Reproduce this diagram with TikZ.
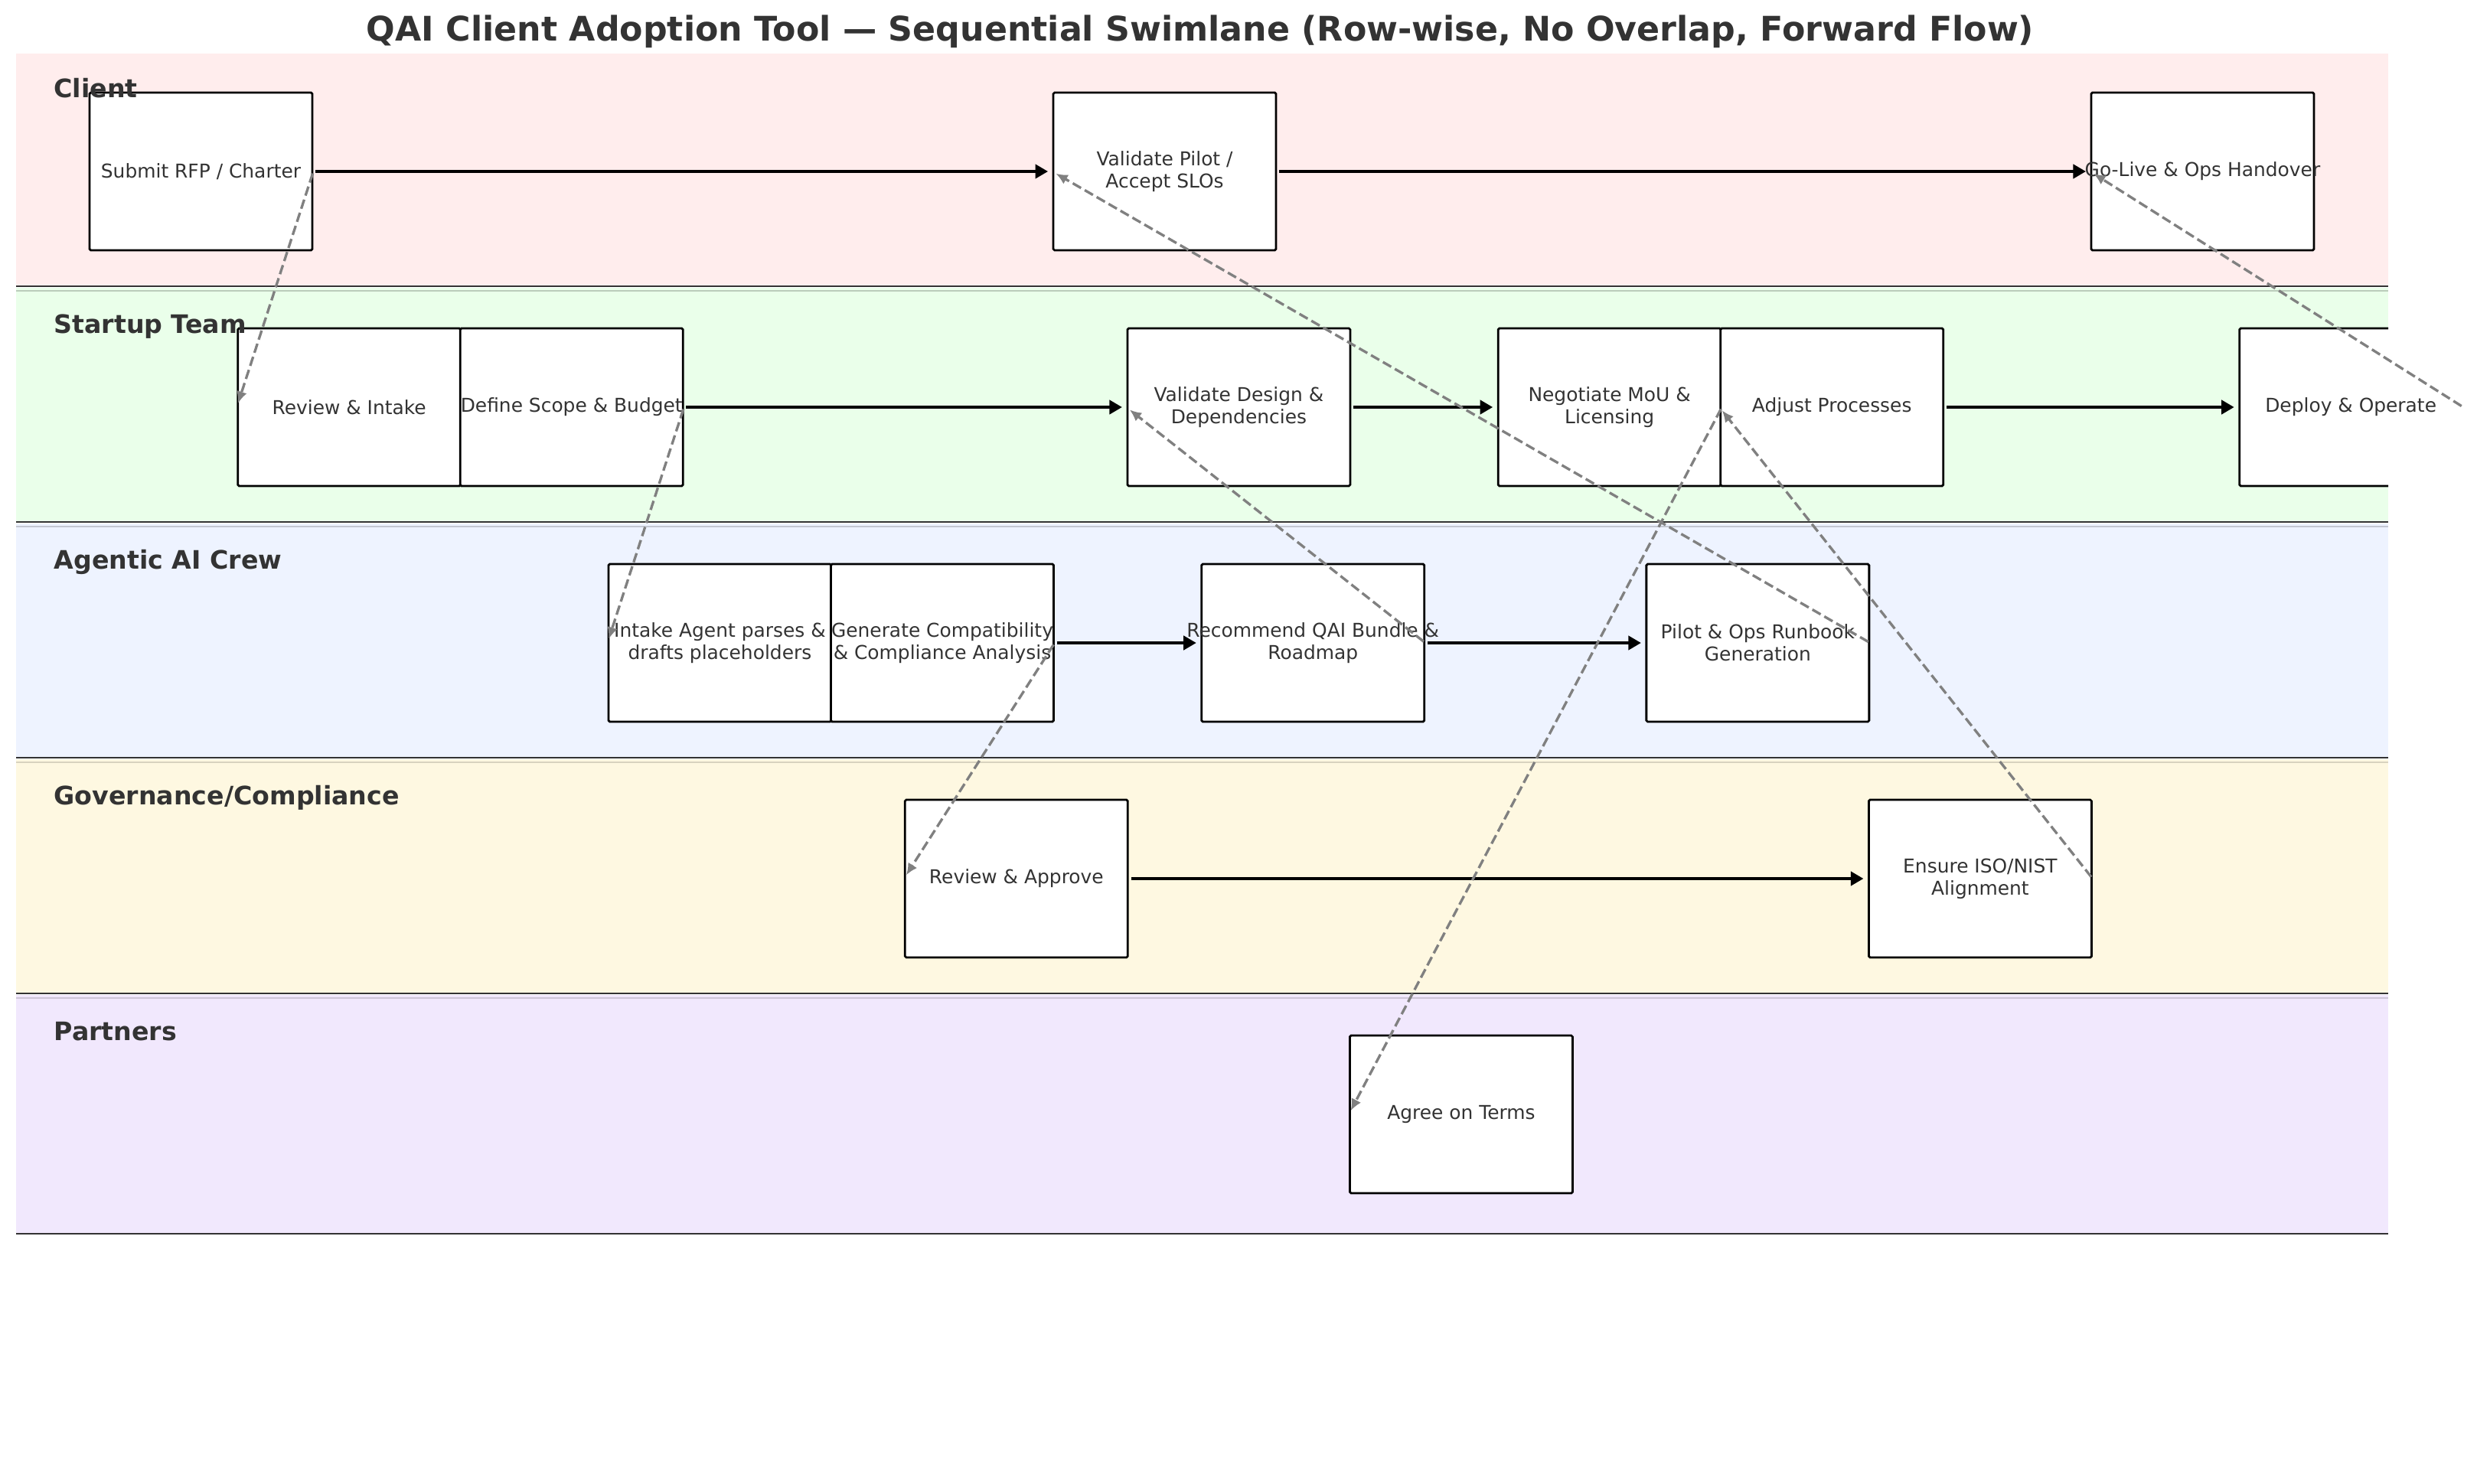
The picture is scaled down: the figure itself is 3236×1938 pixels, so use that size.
\documentclass[tikz,border=0pt]{standalone}
\usepackage{fontspec}
\setmainfont{DejaVu Sans}
\usetikzlibrary{arrows.meta}
\definecolor{laneA}{HTML}{FFEDED}
\definecolor{laneB}{HTML}{EAFFEA}
\definecolor{laneC}{HTML}{EEF3FF}
\definecolor{laneD}{HTML}{FEF8E1}
\definecolor{laneE}{HTML}{F1E8FD}
\definecolor{txt}{HTML}{333333}
\definecolor{dash}{HTML}{808080}
\newcommand{\cln}[1]{\makebox[0pt]{#1}}
\begin{document}
\begin{tikzpicture}[x=0.36135pt,y=-0.36135pt,
  stepbox/.style={draw=black,line width=1pt,fill=white,rounded corners=0.6pt,
    minimum width=105.15pt,minimum height=74.44pt,inner sep=0pt,
    font=\fontsize{9}{10.4}\selectfont,text=txt,align=center},
  boxtext/.style={inner sep=0pt,font=\fontsize{9}{10.4}\selectfont,text=txt,align=center},
  flow/.style={line width=1.6pt,-{Triangle[length=6pt,width=6.5pt]},shorten >=2pt,shorten <=1pt},
  handoff/.style={draw=dash,line width=1.2pt,dash pattern=on 4.5pt off 2pt,
    -{Latex[length=5.5pt,width=5pt]},shorten >=2pt,shorten <=1pt},
  lanelabel/.style={anchor=base west,font=\bfseries\fontsize{12}{14}\selectfont,text=txt,inner sep=0pt},
  darkline/.style={draw=black!80,line width=1pt},
  lightline/.style={line width=1pt},
]
\useasboundingbox (0,0) rectangle (3236,1938);
\fill[white] (0,0) rectangle (3236,1938);
% lanes
\fill[laneA] (21,70) rectangle (3120,374);
\fill[laneB] (21,376) rectangle (3120,682);
\fill[laneC] (21,684) rectangle (3120,990);
\fill[laneD] (21,992) rectangle (3120,1298);
\fill[laneE] (21,1300) rectangle (3120,1612);
\draw[lightline,draw=laneB!80!black] (21,380) -- (3120,380);
\draw[lightline,draw=laneC!82!black] (21,688) -- (3120,688);
\draw[lightline,draw=laneD!85!black] (21,996) -- (3120,996);
\draw[lightline,draw=laneE!85!black] (21,1304) -- (3120,1304);
\foreach \yy in {374,682,990,1298,1612} \draw[darkline] (21,\yy) -- (3120,\yy);
% client
\node[stepbox] (submit) at (262.5,224) {Submit RFP / Charter};
\node[stepbox] (vpilot) at (1521.55,224) {Validate Pilot /\\Accept SLOs};
\node[stepbox] (golive) at (2877.45,224) {\cln{Go-Live \& Ops Handover}};
% startup
\node[stepbox] (review) at (456.2,532) {Review \& Intake};
\node[stepbox] (scope) at (746.75,532) {\cln{Define Scope \& Budget}};
\node[stepbox] (vdesign) at (1618.4,532) {Validate Design \&\\Dependencies};
\node[stepbox] (mou) at (2102.65,532) {Negotiate MoU \&\\Licensing};
\node[stepbox] (adjust) at (2393.2,532) {Adjust Processes};
\begin{scope}
\clip (21,0) rectangle (3120,1938);
\node[stepbox] (deploy) at (3071.15,532) {};
\end{scope}
\node[boxtext] at (deploy.center) {Deploy \& Operate};
% agentic
\node[stepbox] (intake) at (940.45,840) {\cln{Intake Agent parses \&}\\\cln{drafts placeholders}};
\node[stepbox] (compat) at (1231.0,840) {\cln{Generate Compatibility}\\\cln{\& Compliance Analysis}};
\node[stepbox] (bundle) at (1715.25,840) {\cln{Recommend QAI Bundle \&}\\Roadmap};
\node[stepbox] (runbook) at (2296.35,840) {\cln{Pilot \& Ops Runbook}\\Generation};
% governance
\node[stepbox] (approve) at (1327.85,1148) {Review \& Approve};
\node[stepbox] (iso) at (2586.9,1148) {Ensure ISO/NIST\\Alignment};
% partners
\node[stepbox] (terms) at (1908.95,1456) {Agree on Terms};
% solid flow
\draw[flow] (submit.east) -- (vpilot.west);
\draw[flow] (vpilot.east) -- (golive.west);
\draw[flow] (scope.east) -- (vdesign.west);
\draw[flow] (vdesign.east) -- (mou.west);
\draw[flow] (adjust.east) -- (deploy.west);
\draw[flow] (compat.east) -- (bundle.west);
\draw[flow] (bundle.east) -- (runbook.west);
\draw[flow] (approve.east) -- (iso.west);
% dashed hand-offs
\draw[handoff] (submit.east) -- (review.west);
\draw[handoff] (scope.east) -- (intake.west);
\draw[handoff] (compat.east) -- (approve.west);
\draw[handoff] (bundle.east) -- (vdesign.west);
\draw[handoff] (mou.east) -- (terms.west);
\draw[handoff] (iso.east) -- (adjust.west);
\draw[handoff] (runbook.east) -- (vpilot.west);
\draw[handoff] (deploy.east) -- (golive.west);
% lane labels
\node[lanelabel] (lclient) at (70,127) {Client};
\node[lanelabel] (lstartup) at (70,435) {Startup Team};
\node[lanelabel] (lagentic) at (70,743) {Agentic AI Crew};
\node[lanelabel] (lgov) at (70,1051) {Governance/Compliance};
\node[lanelabel] (lpartners) at (70,1359) {Partners};
% title
\node[anchor=base,inner sep=0pt,text=txt,font=\bfseries\fontsize{16}{19}\selectfont] (title) at (1568,53)
  {QAI Client Adoption Tool — Sequential Swimlane (Row-wise, No Overlap, Forward Flow)};
\end{tikzpicture}
\end{document}
